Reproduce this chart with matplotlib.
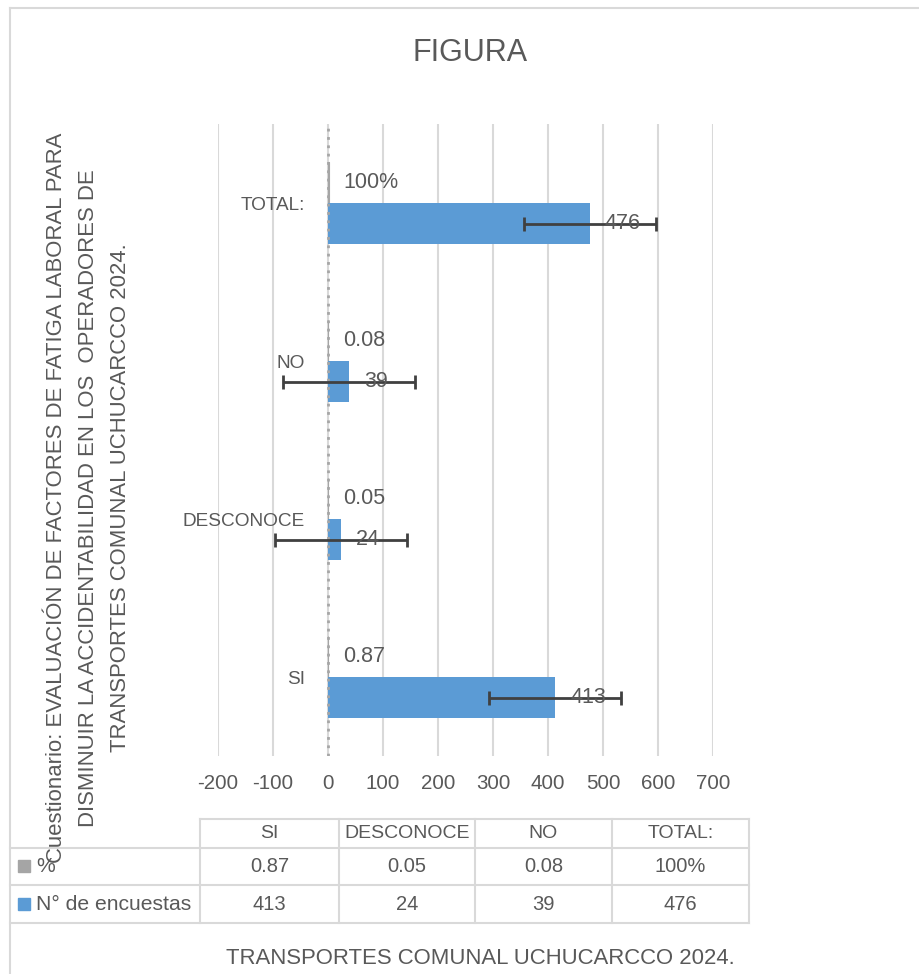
import matplotlib.pyplot as plt
import numpy as np
from matplotlib.lines import Line2D
from matplotlib.patches import Rectangle

categorias = ['SI', 'DESCONOCE', 'NO', 'TOTAL:']
encuestas = [413, 24, 39, 476]
porcentaje = [0.87, 0.05, 0.08, 1.00]
porcentaje_txt = ['0.87', '0.05', '0.08', '100%']
error_enc = [120, 120, 120, 120]
x_ticks = list(range(-200, 701, 100))

titulo = 'FIGURA'
eje_y = ['Cuestionario: EVALUACIÓN DE FACTORES DE FATIGA LABORAL PARA',
         'DISMINUIR LA ACCIDENTABILIDAD EN LOS  OPERADORES DE',
         'TRANSPORTES COMUNAL UCHUCARCCO 2024.']
pie = 'TRANSPORTES COMUNAL UCHUCARCCO 2024.'
series = ['%', 'N° de encuestas']

plt.rcParams['font.family'] = ['Liberation Sans', 'DejaVu Sans']
gris_txt = '#595959'
c_gris = '#a5a5a5'
c_azul = '#5b9bd5'
c_linea = '#d9d9d9'

W, H = 919, 974
fig = plt.figure(figsize=(W / 100, H / 100), dpi=100)

def fx(px):
    return px / W

def fy(py):
    return 1 - py / H

ax = fig.add_axes([fx(218), fy(756), fx(713) - fx(218), fy(124) - fy(756)])
y = np.arange(len(categorias))
h = 0.26
ax.barh(y + h / 2, porcentaje, height=h, color=c_gris, edgecolor=c_gris, lw=0.8, zorder=2)
ax.barh(y - h / 2, encuestas, height=h, color=c_azul, zorder=2)
ax.axvline(0, ls=(0, (1, 2)), color='#a6a6a6', lw=2, zorder=3)
ax.errorbar(encuestas, y - h / 2, xerr=error_enc, fmt='none', ecolor='#404040',
            elinewidth=2, capsize=4.7, capthick=2, zorder=4)

for i in range(len(categorias)):
    ax.annotate(porcentaje_txt[i], (porcentaje[i], y[i] + h / 2), xytext=(15, 0),
                textcoords='offset pixels', ha='left', va='center', fontsize=15.5, color=gris_txt)
    ax.annotate(str(encuestas[i]), (encuestas[i], y[i] - h / 2), xytext=(15, 0),
                textcoords='offset pixels', ha='left', va='center', fontsize=15.5, color=gris_txt, zorder=5)
    ax.annotate(categorias[i], (0, y[i]), xytext=(-23, -2), textcoords='offset pixels',
                ha='right', va='center', fontsize=13.7, color=gris_txt)

ax.set_xlim(-200, 700)
ax.set_ylim(-0.5, 3.5)
ax.set_xticks(x_ticks)
ax.set_xticklabels([str(t) for t in x_ticks], fontsize=14.8, color=gris_txt)
ax.set_yticks([])
ax.tick_params(length=0, pad=13)
ax.grid(axis='x', color=c_linea, lw=1.5, zorder=0)
ax.set_axisbelow(True)
for s in ax.spines.values():
    s.set_visible(False)

# titulo y textos
fig.text(fx(470), fy(53), titulo, ha='center', va='center', fontsize=22, color=gris_txt)
for xc, linea in zip([57, 89, 121], eje_y):
    fig.text(fx(xc), fy(498), linea, rotation=90, ha='center', va='center',
             fontsize=15.9, color=gris_txt)
fig.text(fx(480), fy(958), pie, ha='center', va='center', fontsize=15.9, color=gris_txt)

# borde del grafico
fig.add_artist(Line2D([fx(10), fx(10)], [fy(8), 0], color=c_linea, lw=1.5))
fig.add_artist(Line2D([fx(10), 1], [fy(8), fy(8)], color=c_linea, lw=1.5))

# tabla de datos
cols = [200, 339, 475, 612, 749]
filas = [819, 848, 885, 923]
fig.add_artist(Line2D([fx(200), fx(749)], [fy(819), fy(819)], color=c_linea, lw=1.5))
for yy in filas[1:]:
    fig.add_artist(Line2D([fx(10), fx(749)], [fy(yy), fy(yy)], color=c_linea, lw=1.5))
for xx in cols:
    fig.add_artist(Line2D([fx(xx), fx(xx)], [fy(819), fy(923)], color=c_linea, lw=1.5))

for j in range(len(categorias)):
    xc = (cols[j] + cols[j + 1]) / 2
    fig.text(fx(xc), fy(833), categorias[j], ha='center', va='center', fontsize=14, color=gris_txt)
    fig.text(fx(xc), fy(866), porcentaje_txt[j], ha='center', va='center', fontsize=14.5, color=gris_txt)
    fig.text(fx(xc), fy(904), str(encuestas[j]), ha='center', va='center', fontsize=14.5, color=gris_txt)

for yc, col, nombre in zip([866, 904], [c_gris, c_azul], series):
    fig.add_artist(Rectangle((fx(18), fy(yc + 6)), fx(12), 12 / H, color=col))
    fig.text(fx(36), fy(yc), nombre, ha='left', va='center', fontsize=15.2, color=gris_txt)

fig.savefig('out.png', dpi=100)
